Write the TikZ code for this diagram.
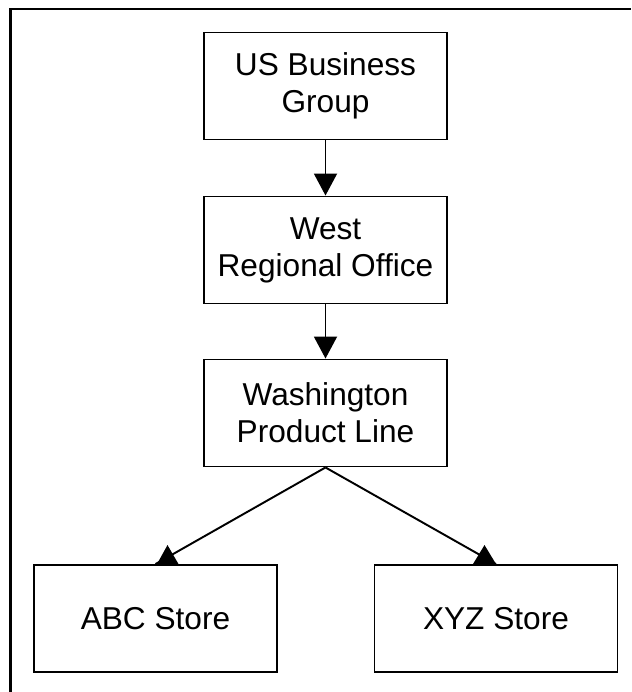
\documentclass[tikz,border=0pt]{standalone}
\usepackage{fontspec}
\setmainfont{Liberation Sans}
\usepackage{tikz}
\usetikzlibrary{calc, arrows.meta}

\tikzset{
  orgbox/.style={draw, line width=1.1pt, minimum width=48.6mm, minimum height=21.4mm,
    align=center, inner sep=0pt, font=\fontsize{18pt}{21pt}\selectfont},
  link/.style={line width=1.1pt},
}

\begin{document}
\begin{tikzpicture}[x=0.2mm, y=-0.2mm]
  \useasboundingbox (0,0) rectangle (631,692);
  % Frame (cut off at right and bottom)
  \draw[line width=1.7pt] (10.5,692) -- (10.5,9) -- (631,9);
  % Boxes
  \node[orgbox] (us)   at (325.5,86)  {US Business\\Group};
  \node[orgbox] (west) at (325.5,250) {West\\Regional Office};
  \node[orgbox] (wash) at (325.5,413) {Washington\\Product Line};
  \node[orgbox] (abc)  at (155.5,618.5) {ABC Store};
  \node[orgbox] (xyz)  at (496,618.5)   {XYZ Store};
  % Links
  \draw[link, -{Triangle[width=4.6mm, length=4.4mm]}] (us) -- (west);
  \draw[link, -{Triangle[width=4.6mm, length=4.4mm]}] (west) -- (wash);
  \draw[link] (wash.south) -- (abc.north);
  \draw[link] (wash.south) -- (xyz.north);
  \fill ($(abc.north)+(1.5,0)$) -- ($(abc.north)+(23,0)$) -- ($(abc.north)+(12,-19)$) -- cycle;
  \fill ($(xyz.north)+(-23,0)$) -- ($(xyz.north)+(0,0)$) -- ($(xyz.north)+(-11.5,-19)$) -- cycle;
\end{tikzpicture}
\end{document}
